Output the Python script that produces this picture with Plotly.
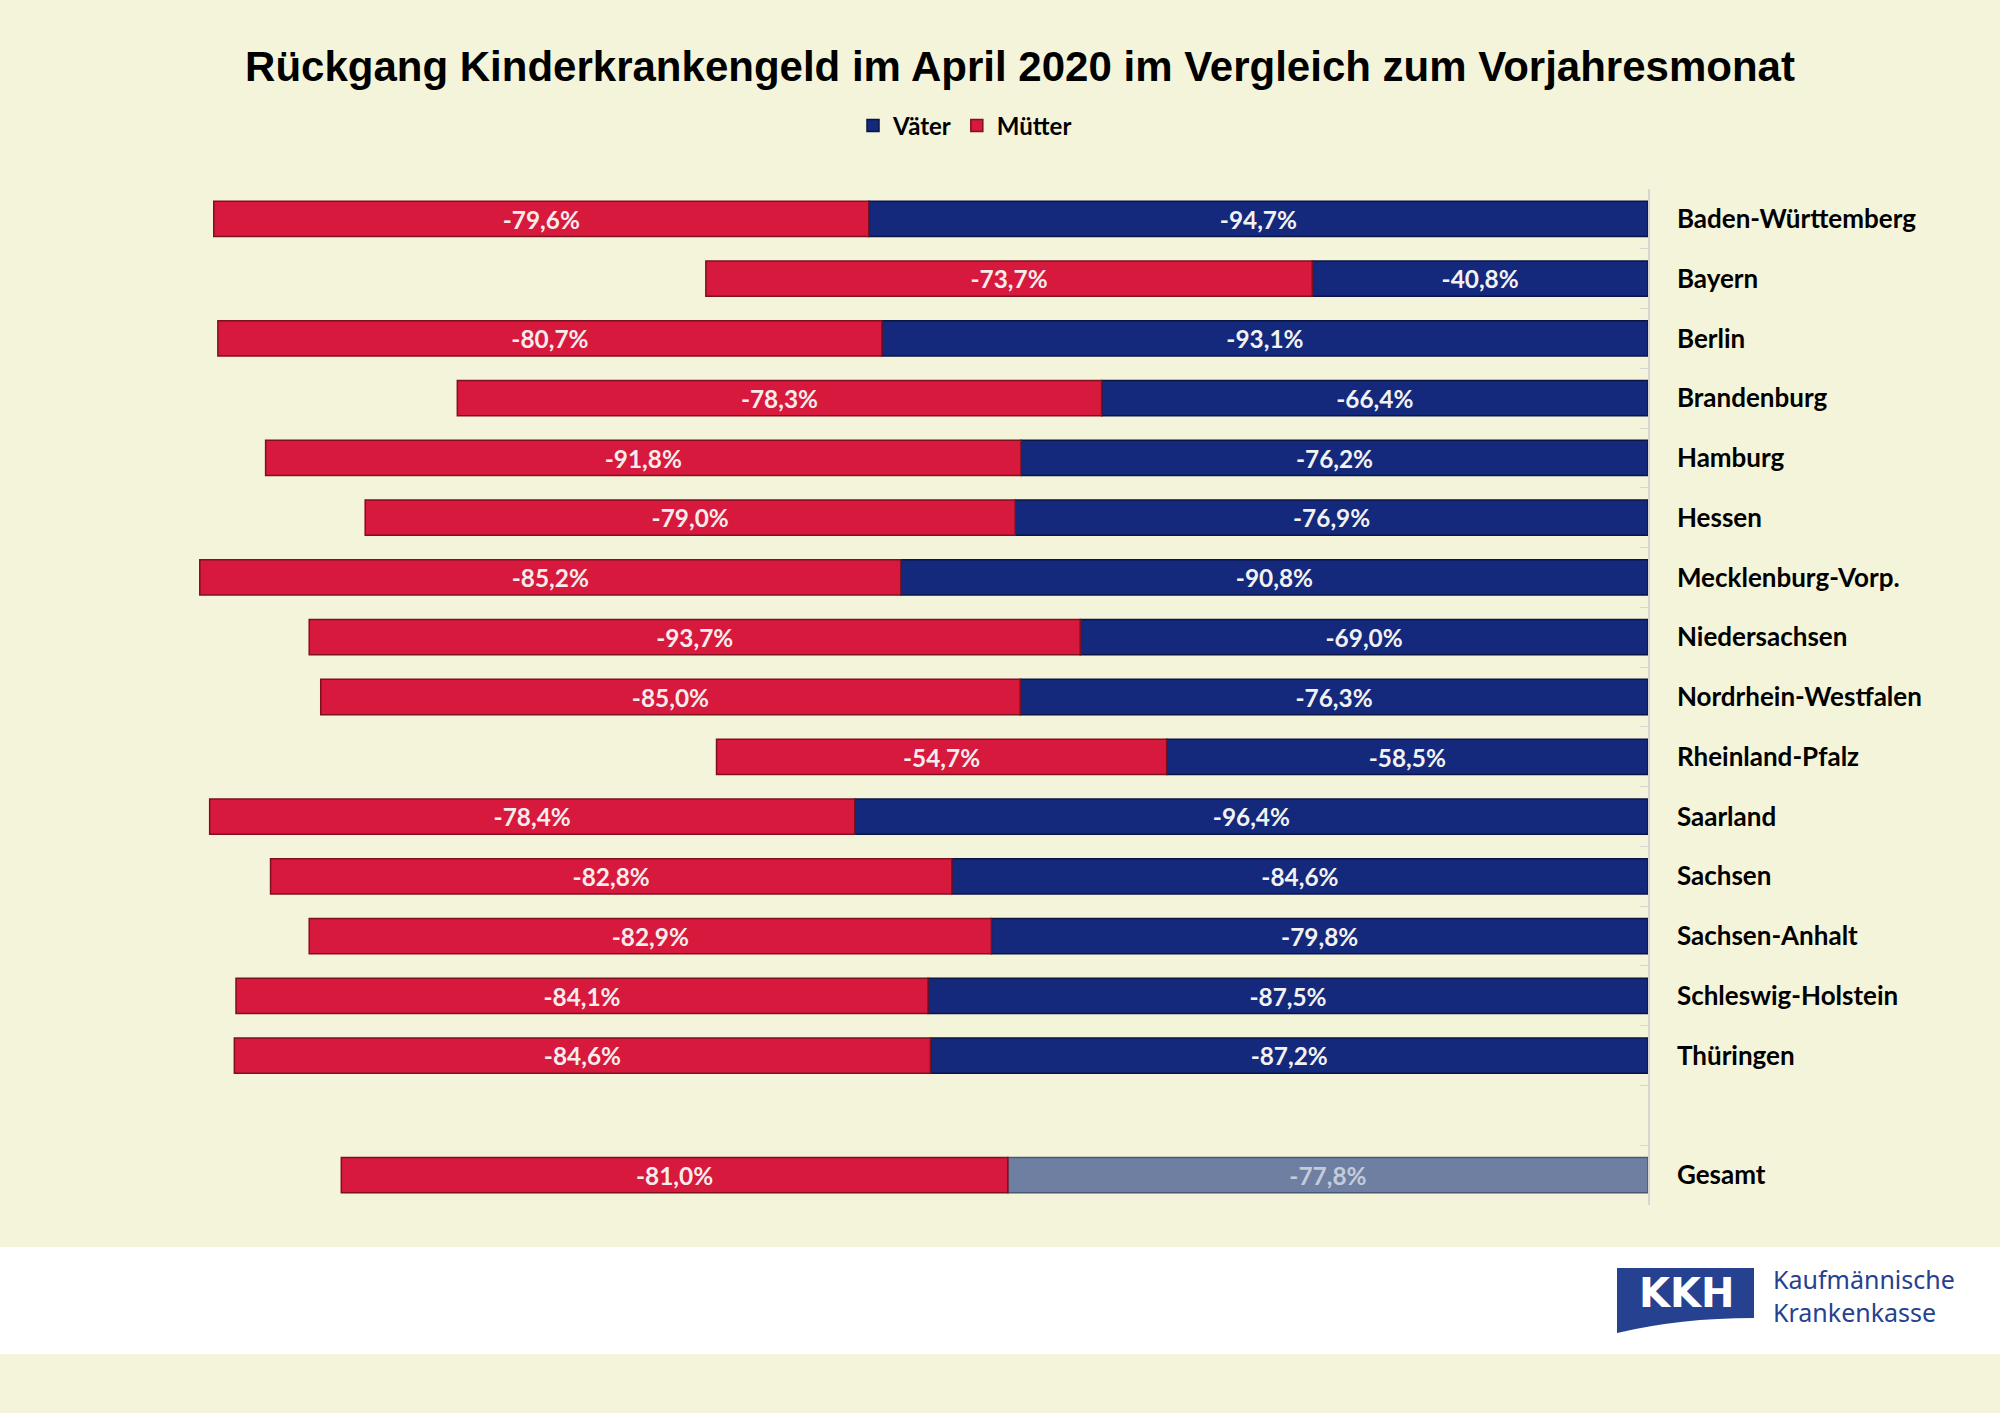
import plotly.graph_objects as go

# ---------------- data ----------------
laender = ["Baden-Württemberg", "Bayern", "Berlin", "Brandenburg", "Hamburg", "Hessen",
           "Mecklenburg-Vorp.", "Niedersachsen", "Nordrhein-Westfalen", "Rheinland-Pfalz",
           "Saarland", "Sachsen", "Sachsen-Anhalt", "Schleswig-Holstein", "Thüringen",
           " ", "Gesamt"]
vaeter = [-94.7, -40.8, -93.1, -66.4, -76.2, -76.9, -90.8, -69.0, -76.3, -58.5,
          -96.4, -84.6, -79.8, -87.5, -87.2, None, -77.8]
muetter = [-79.6, -73.7, -80.7, -78.3, -91.8, -79.0, -85.2, -93.7, -85.0, -54.7,
           -78.4, -82.8, -82.9, -84.1, -84.6, None, -81.0]

def fmt(v):
    return "" if v is None else f"{v:.1f}".replace(".", ",") + "%"

# ---------------- layout geometry (pixels) ----------------
W, H = 2000, 1413
L, R, T, B = 78, 1648, 189, 1205

def px(x):
    return (x - L) / (R - L)

def py(y):
    return (B - y) / (B - T)

BLUE = "#15297C"
BLUE_LINE = "#0A1545"
GREY_BLUE = "#6E7FA2"
GREY_LINE = "#4A5878"
RED = "#D6193C"
RED_LINE = "#7E1020"
BG = "#F4F4DA"
LOGO = "#25418F"

v_colors = [GREY_BLUE if c == "Gesamt" else BLUE for c in laender]
v_lines = [GREY_LINE if c == "Gesamt" else BLUE_LINE for c in laender]
v_textcol = ["#C4CBD9" if c == "Gesamt" else "#F2F2F2" for c in laender]

fig = go.Figure()
fig.add_trace(go.Bar(
    y=laender, x=vaeter, orientation="h", name="Väter",
    marker=dict(color=v_colors, line=dict(color=v_lines, width=1.5)),
    text=[fmt(v) for v in vaeter], textposition="inside", insidetextanchor="middle",
    textfont=dict(family="Lato", size=25, color=v_textcol, weight=700),
    textangle=0,
))
fig.add_trace(go.Bar(
    y=laender, x=muetter, orientation="h", name="Mütter",
    marker=dict(color=RED, line=dict(color=RED_LINE, width=1.5)),
    text=[fmt(v) for v in muetter], textposition="inside", insidetextanchor="middle",
    textfont=dict(family="Lato", size=25, color="#F6ECEC", weight=700),
    textangle=0,
))

shapes = [
    # white band at bottom
    dict(type="rect", xref="paper", yref="paper", x0=px(0), x1=px(W), y0=py(1354), y1=py(1247),
         fillcolor="white", line=dict(width=0), layer="below"),
    # logo box with curved bottom
    dict(type="path", xref="paper", yref="paper",
         path=(f"M {px(1617)},{py(1268)} L {px(1754)},{py(1268)} L {px(1754)},{py(1318)} "
               f"Q {px(1680)},{py(1318)} {px(1617)},{py(1333)} Z"),
         fillcolor=LOGO, line=dict(width=0)),
]

annotations = [
    dict(xref="paper", yref="paper", x=px(1686), y=py(1293), text="<b>KKH</b>", showarrow=False,
         font=dict(family="DejaVu Sans", size=40, color="white"), xanchor="center", yanchor="middle"),
    dict(xref="paper", yref="paper", x=px(1771), y=py(1295), text="Kaufmännische<br>Krankenkasse",
         showarrow=False, align="left",
         font=dict(family="Noto Sans", size=25, color=LOGO), xanchor="left", yanchor="middle"),
]

fig.update_layout(
    width=W, height=H,
    margin=dict(l=L, r=W - R, t=T, b=H - B, pad=0),
    paper_bgcolor=BG, plot_bgcolor=BG,
    barmode="relative", bargap=0.41,
    title=dict(text="<b>Rückgang Kinderkrankengeld im April 2020 im Vergleich zum Vorjahresmonat</b>",
               x=1020 / W, xanchor="center", xref="container",
               y=1 - 66 / H, yanchor="middle",
               font=dict(family="Liberation Sans", size=42, color="black")),
    legend=dict(orientation="h", x=px(965), xanchor="center", y=py(126), yanchor="middle",
                font=dict(family="Lato", size=24, color="black", weight=700),
                bgcolor="rgba(0,0,0,0)", itemwidth=30, traceorder="normal"),
    xaxis=dict(range=[-190.8, 0], visible=False, fixedrange=True),
    yaxis=dict(categoryorder="array", categoryarray=laender, autorange="reversed",
               side="right", showline=True, linecolor="#D6D6D0", linewidth=1.5,
               ticks="inside", ticklen=8, tickcolor="#D6D6D0", tickson="boundaries",
               ticklabelstandoff=22, showgrid=False,
               tickfont=dict(family="Lato", size=26, color="black", weight=700)),
    shapes=shapes, annotations=annotations,
    uniformtext=dict(mode="show", minsize=10),
)

fig.write_html("out.html")
